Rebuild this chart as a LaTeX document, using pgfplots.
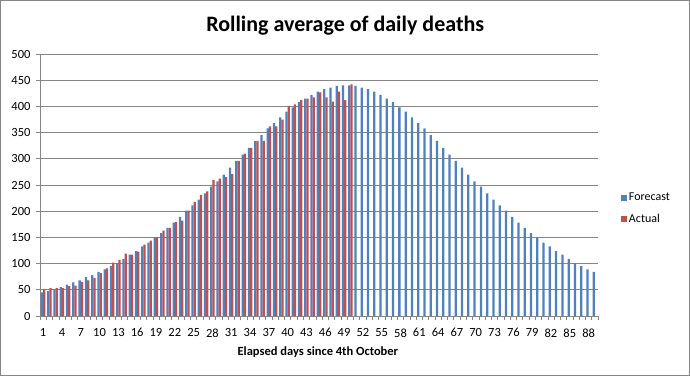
\documentclass[border=0pt]{standalone}
\usepackage{fontspec}
\setmainfont{Carlito}
\usepackage{pgfplots}
\pgfplotsset{compat=1.18}
\usepackage{pgfplotstable}
\definecolor{fcblue}{HTML}{4F81BD}
\definecolor{acred}{HTML}{C0504D}
\definecolor{gridgray}{HTML}{868686}
\pgfplotstableread{
day val
1 45
2 48
3 51
4 55
5 60
6 64
7 68
8 74
9 78
10 84
11 89
12 95
13 101
14 109
15 117
16 124
17 133
18 140
19 150
20 158
21 168
22 178
23 189
24 201
25 211
26 222
27 234
28 247
29 257
30 270
31 283
32 296
33 308
34 321
35 334
36 345
37 358
38 368
39 379
40 390
41 398
42 408
43 415
44 422
45 428
46 433
47 436
48 439
49 440
50 440
51 439
52 436
53 433
54 428
55 422
56 415
57 408
58 398
59 390
60 379
61 368
62 358
63 345
64 334
65 321
66 308
67 296
68 283
69 270
70 257
71 247
72 234
73 222
74 211
75 201
76 189
77 178
78 168
79 158
80 150
81 140
82 133
83 124
84 117
85 109
86 101
87 95
88 89
89 84
}\forecast
\pgfplotstableread{
day val
1 51
2 53
3 53
4 53
5 57
6 58
7 65
8 68
9 73
10 82
11 91
12 102
13 107
14 119
15 117
16 123
17 136
18 144
19 150
20 163
21 168
22 179
23 182
24 201
25 218
26 231
27 238
28 260
29 262
30 265
31 271
32 296
33 310
34 321
35 334
36 334
37 362
38 362
39 375
40 401
41 404
42 412
43 415
44 417
45 427
46 417
47 409
48 428
49 412
50 442
}\actual
\begin{document}
\begin{tikzpicture}[x=1pt,y=1pt]
\useasboundingbox (0,0) rectangle (690,376);
\draw[gridgray, line width=0.8pt] (0.6,0.6) rectangle (689.4,375.4);
\begin{axis}[
  at={(40pt,60pt)}, anchor=south west,
  scale only axis, width=558pt, height=262pt,
  xmin=0.5, xmax=89.5, ymin=0, ymax=500,
  ytick={0,50,...,500},
  xtick={1,4,...,88},
  minor xtick={0.5,1.5,...,89.5},
  axis x line*=bottom, axis y line*=left,
  axis line style={gridgray, line width=0.8pt},
  ymajorgrids, grid style={gridgray, line width=0.8pt},
  tick align=outside,
  major tick length=4pt, minor tick length=4pt,
  major x tick style={draw=none},
  minor x tick style={gridgray, line width=0.6pt},
  major y tick style={gridgray, line width=0.8pt},
  /pgf/number format/assume math mode=true,
  ticklabel style={font=\fontsize{12.5}{14}\selectfont},
  xticklabel style={yshift=-5pt},
  yticklabel style={xshift=-2pt},
  ybar=0pt, bar width=0.36,
  title={\fontsize{22}{26}\selectfont\bfseries Rolling average of daily deaths},
  title style={at={(axis description cs:0.547,1.085)}, anchor=center},
  xlabel={\fontsize{12.5}{15}\selectfont\bfseries Elapsed days since 4th October},
  xlabel style={at={(axis description cs:0.498,-0.137)}, anchor=center},
  legend style={draw=none, fill=none, at={(axis description cs:1.035,0.41)}, anchor=west,
    font=\fontsize{12}{14}\selectfont, row sep=8pt},
  legend cell align=left,
  area legend,
  legend image code/.code={\fill[#1] (0cm,-0.11cm) rectangle (0.22cm,0.11cm);},
]
\addplot[fill=fcblue, draw=none] table[x=day,y=val] {\forecast};
\addlegendentry{Forecast}
\addplot[fill=acred, draw=none] table[x=day,y=val] {\actual};
\addlegendentry{Actual}
\end{axis}
\end{tikzpicture}
\end{document}
